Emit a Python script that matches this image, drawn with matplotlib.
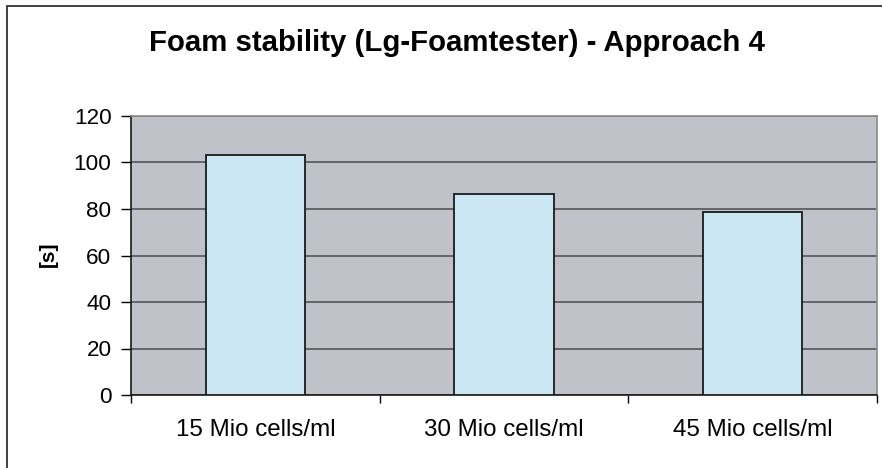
import numpy as np
import matplotlib.pyplot as plt
from matplotlib.patches import Rectangle

plt.rcParams['font.family'] = ['Liberation Sans', 'DejaVu Sans']

# data
categories = ['15 Mio cells/ml', '30 Mio cells/ml', '45 Mio cells/ml']
foam_time = [103.2, 86.5, 78.5]
yticks = [0, 20, 40, 60, 80, 100, 120]

fig = plt.figure(figsize=(8.82, 4.68), dpi=100)
ax = fig.add_axes([131/882, 73/468, 746/882, 279/468])

# outer chart border (runs off the right and bottom edges)
fig.patches.append(Rectangle((7/882, -0.05), 1.0, 1 - 6/468 + 0.05,
                             transform=fig.transFigure, fill=False,
                             edgecolor='#333333', linewidth=1.3))

x = np.arange(len(categories))
ax.set_facecolor('#bfc2c9')
ax.bar(x, foam_time, width=0.4, color='#cbe7f3', edgecolor='#1a1a1a',
       linewidth=1.3, zorder=3)

ax.set_xlim(-0.5, 2.5)
ax.set_ylim(0, 120)
ax.set_yticks(yticks)
ax.yaxis.grid(True, color='#555555', linewidth=1.2, zorder=1)
ax.set_axisbelow(True)

ax.set_xticks(x)
ax.set_xticklabels(categories, fontsize=17.4)
ax.set_xticks([-0.5, 0.5, 1.5, 2.5], minor=True)
ax.tick_params(axis='x', which='major', length=0, pad=17)
ax.tick_params(axis='x', which='minor', length=6, width=1, direction='out')
ax.tick_params(axis='y', labelsize=16.2, length=7, width=1, direction='out', pad=7)

for s in ['left', 'bottom']:
    ax.spines[s].set_color('#1a1a1a')
    ax.spines[s].set_linewidth(1.2)
for s in ['top', 'right']:
    ax.spines[s].set_color('#8c8c8c')
    ax.spines[s].set_linewidth(1.2)

fig.text(48/882, 1 - 254/468, '[s]', rotation=90, ha='center', va='center',
         fontsize=15, fontweight='bold')
fig.text(457/882, 1 - 43/468, 'Foam stability (Lg-Foamtester) - Approach 4',
         ha='center', va='center', fontsize=21.2, fontweight='bold')

fig.savefig('out.png', dpi=100)
